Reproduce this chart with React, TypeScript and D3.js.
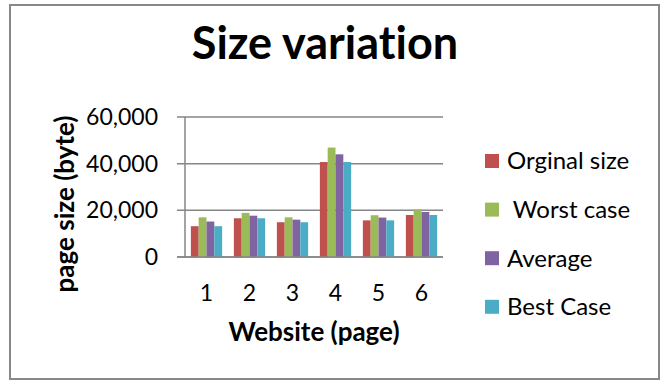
import React from "react";
import * as d3 from "d3";

const categories = ["1", "2", "3", "4", "5", "6"];
const seriesNames = ["Orginal size", " Worst case", "Average", "Best Case"];
const original = [13200, 16600, 14900, 40700, 15700, 18000];
const worst = [17000, 18900, 17000, 46900, 17900, 20400];
const average = [15200, 17700, 16000, 44000, 16900, 19300];
const best = [13200, 16600, 14900, 40700, 15700, 18000];
const yTicks = [0, 20000, 40000, 60000];
const colors = ["#C0504D", "#9BBB59", "#8064A2", "#4BACC6"];

const seriesValues = [original, worst, average, best];

export default function App() {
  const W = 661;
  const H = 381;
  const left = 185;
  const right = 443;
  const top = 117;
  const bottom = 257;
  const font = "Lato, 'Open Sans', sans-serif";
  const noLig = { fontVariantLigatures: "none" as const, whiteSpace: "pre" as const };

  const x = d3.scaleBand<string>().domain(categories).range([left, right]).paddingInner(0).paddingOuter(0);
  const step = x.bandwidth();
  const barW = step / 5.5;
  const groupOffset = (step - barW * 4) / 2;
  const y = d3.scaleLinear().domain([0, 60000]).range([bottom, top]);
  const fmt = d3.format(",");

  return (
    <svg width={W} height={H} style={{ position: "absolute", left: 0, top: 0, background: "#fff" }}>
      <rect x={10} y={5} width={649} height={374} fill="#fff" stroke="#888" strokeWidth={2} />
      <text x={325} y={59} textAnchor="middle" fontFamily={font} fontWeight="bold" fontSize={45} fill="#000" style={noLig}>
        Size variation
      </text>
      {yTicks.map((t) => (
        <g key={t}>
          <line x1={177} x2={right} y1={y(t)} y2={y(t)} stroke="#868686" strokeWidth={1.5} />
          <text x={158} y={y(t)} dy="0.35em" textAnchor="end" fontFamily={font} fontSize={23} fill="#000">
            {fmt(t)}
          </text>
        </g>
      ))}
      <line x1={left} x2={left} y1={top} y2={bottom} stroke="#868686" strokeWidth={1.5} />
      {seriesValues.map((vals, si) =>
        vals.map((v, ci) => (
          <rect
            key={`${si}-${ci}`}
            x={(x(categories[ci]) as number) + groupOffset + si * barW}
            y={y(v)}
            width={barW}
            height={bottom - y(v)}
            fill={colors[si]}
          />
        ))
      )}
      <line x1={177} x2={right} y1={bottom} y2={bottom} stroke="#868686" strokeWidth={1.5} />
      {categories.map((c) => (
        <text key={c} x={(x(c) as number) + step / 2} y={293} dy="0.35em" textAnchor="middle" fontFamily={font} fontSize={23} fill="#000">
          {c}
        </text>
      ))}
      <text x={(left + right) / 2} y={332} dy="0.35em" textAnchor="middle" fontFamily={font} fontWeight="bold" fontSize={26} fill="#000" style={noLig}>
        Website (page)
      </text>
      <text
        transform={`translate(65,204) rotate(-90)`}
        textAnchor="middle"
        dy="0.35em"
        fontFamily={font}
        fontWeight="bold"
        fontSize={26}
        fill="#000"
        style={noLig}
      >
        page size (byte)
      </text>
      {seriesNames.map((n, i) => (
        <g key={n} transform={`translate(485,${161 + i * 48.6})`}>
          <rect x={0} y={-7} width={14} height={14} fill={colors[i]} />
          <text x={22} y={0} dy="0.35em" fontFamily={font} fontSize={24} fill="#000" style={noLig}>
            {n}
          </text>
        </g>
      ))}
    </svg>
  );
}
